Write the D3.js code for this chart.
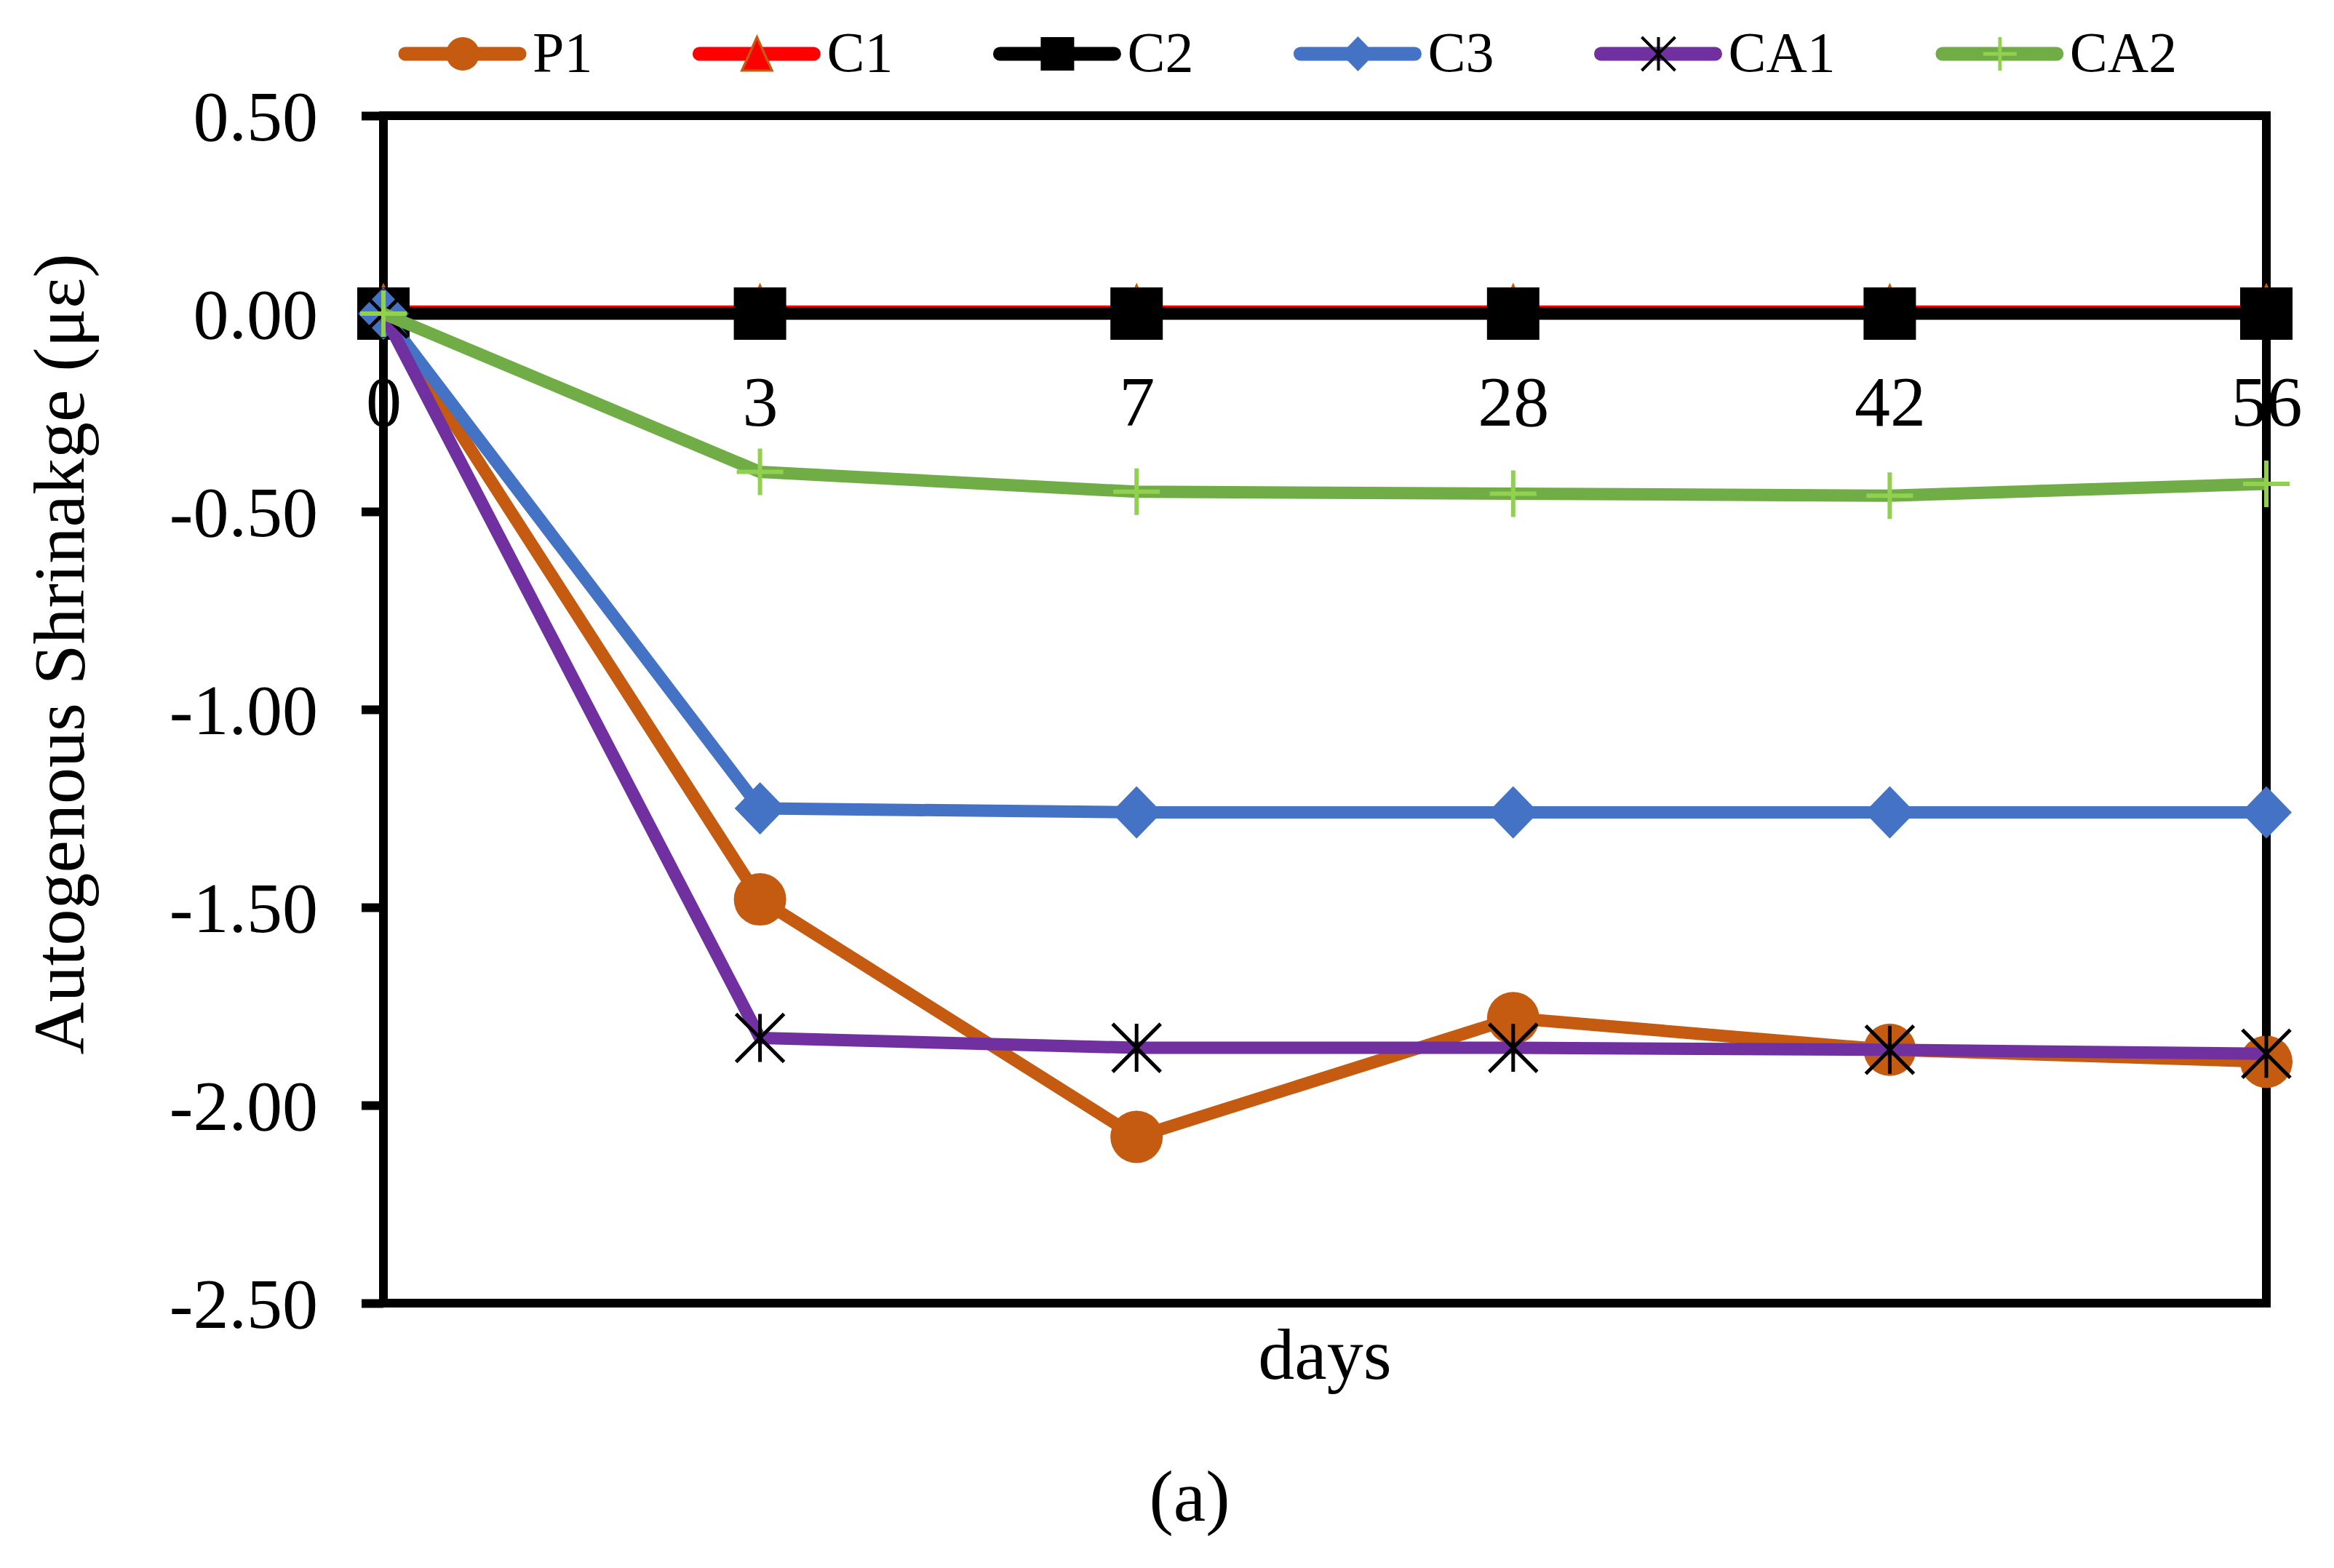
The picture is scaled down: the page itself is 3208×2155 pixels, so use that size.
<!DOCTYPE html>
<html>
<head>
<meta charset="utf-8">
<script src="https://cdn.jsdelivr.net/npm/d3@7"></script>
<style>
  body { margin: 0; background: #fff; }
  text { font-family: "Liberation Serif", "Times New Roman", serif; fill: #000; }
</style>
</head>
<body>
<div id="chart"></div>
<script>
// values
var days = ["0", "3", "7", "28", "42", "56"];
var p1  = [0, -1.48, -2.08, -1.78, -1.86, -1.89];
var c1  = [0.005, 0.005, 0.005, 0.005, 0.005, 0.005];
var c2  = [0, 0, 0, 0, 0, 0];
var c3  = [0, -1.25, -1.26, -1.26, -1.26, -1.26];
var ca1 = [0, -1.83, -1.855, -1.855, -1.86, -1.87];
var ca2 = [0, -0.40, -0.45, -0.455, -0.46, -0.43];
var seriesNames = ["P1", "C1", "C2", "C3", "CA1", "CA2"];
var yTicks = [0.5, 0, -0.5, -1, -1.5, -2, -2.5];

var W = 3208, H = 2155;
var margin = {top: 159, right: 93, bottom: 364, left: 527};

var svg = d3.select("#chart").append("svg")
    .attr("width", W)
    .attr("height", H);

var x = d3.scalePoint().domain(days).range([margin.left, W - margin.right]).padding(0);
var y = d3.scaleLinear().domain([-2.5, 0.5]).range([H - margin.bottom, margin.top]);

// marker shapes (size = full width in px)
function circle(s) { return d3.symbol(d3.symbolCircle, Math.PI * s * s / 4)(); }
function square(s) { return d3.symbol(d3.symbolSquare, s * s)(); }
function diamond(s) {
    var h = s / 2;
    return "M0," + (-h) + "L" + (h * 0.97) + ",0L0," + h + "L" + (-h * 0.97) + ",0Z";
}
function triangle(s) {
    var h = s / 2;
    return "M0," + (-h) + "L" + (h * 0.9) + "," + h + "L" + (-h * 0.9) + "," + h + "Z";
}
function star(s) {
    var h = s / 2;
    return "M0," + (-h) + "V" + h + "M" + (-h) + "," + (-h) + "L" + h + "," + h + "M" + h + "," + (-h) + "L" + (-h) + "," + h;
}
function plus(s) {
    var h = s / 2;
    return "M0," + (-h) + "V" + h + "M" + (-h) + ",0H" + h;
}

var series = [
    {name: seriesNames[0], values: p1,  color: "#C55A11", shape: circle,   fill: "#C55A11", stroke: "none",    sw: 0, size: 72},
    {name: seriesNames[1], values: c1,  color: "#FF0000", shape: triangle, fill: "#FF0000", stroke: "#C55A11", sw: 4, size: 70},
    {name: seriesNames[2], values: c2,  color: "#000000", shape: square,   fill: "#000000", stroke: "none",    sw: 0, size: 72},
    {name: seriesNames[3], values: c3,  color: "#4472C4", shape: diamond,  fill: "#4472C4", stroke: "none",    sw: 0, size: 72},
    {name: seriesNames[4], values: ca1, color: "#7030A0", shape: star,     fill: "none",    stroke: "#000000", sw: 5, size: 66},
    {name: seriesNames[5], values: ca2, color: "#70AD47", shape: plus,     fill: "none",    stroke: "#92D050", sw: 6, size: 64}
];

// x labels sit just under the zero line, drawn before the frame
var xAxis = svg.append("g")
    .attr("transform", "translate(0," + y(0) + ")")
    .call(d3.axisBottom(x).tickSize(0).tickPadding(84));
xAxis.select(".domain").remove();
xAxis.selectAll("text")
    .style("font-size", "98px")
    .style("font-family", "'Liberation Serif', 'Times New Roman', serif");

// y axis with outward ticks
var yAxis = svg.append("g")
    .attr("transform", "translate(" + margin.left + ",0)")
    .call(d3.axisLeft(y).tickValues(yTicks).tickSize(30).tickPadding(60)
        .tickFormat(function(d){ return d.toFixed(2); }));
yAxis.select(".domain").remove();
yAxis.selectAll(".tick line").attr("stroke", "#000").attr("stroke-width", 12);
yAxis.selectAll("text")
    .style("font-size", "98px")
    .style("font-family", "'Liberation Serif', 'Times New Roman', serif")
    .attr("dy", "0.34em");

// plot frame
svg.append("rect")
    .attr("x", x(days[0]))
    .attr("y", y(0.5))
    .attr("width", x(days[days.length - 1]) - x(days[0]))
    .attr("height", y(-2.5) - y(0.5))
    .attr("fill", "none")
    .attr("stroke", "#000")
    .attr("stroke-width", 12);

var line = d3.line()
    .x(function(d, i){ return x(days[i]); })
    .y(function(d){ return y(d); });

series.forEach(function(s){
    var g = svg.append("g");
    g.append("path")
        .datum(s.values)
        .attr("d", line)
        .attr("fill", "none")
        .attr("stroke", s.color)
        .attr("stroke-width", 17)
        .attr("stroke-linejoin", "round");
    g.selectAll(".mk").data(s.values).enter().append("path")
        .attr("class", "mk")
        .attr("transform", function(d, i){ return "translate(" + x(days[i]) + "," + y(d) + ")"; })
        .attr("d", s.shape(s.size))
        .attr("fill", s.fill)
        .attr("stroke", s.stroke)
        .attr("stroke-width", s.sw);
});

// legend across the top
var legend = svg.append("g").attr("transform", "translate(0,74)");
var lx = 548;
series.forEach(function(s){
    var item = legend.append("g");
    item.append("line")
        .attr("x1", lx + 9).attr("x2", lx + 166)
        .attr("stroke", s.color)
        .attr("stroke-width", 19)
        .attr("stroke-linecap", "round");
    item.append("path")
        .attr("transform", "translate(" + (lx + 88) + ",0)")
        .attr("d", s.shape(s.name == "C3" ? 48 : 46))
        .attr("fill", s.fill)
        .attr("stroke", s.stroke)
        .attr("stroke-width", s.sw * 0.8);
    var t = item.append("text")
        .attr("x", lx + 184)
        .attr("y", 24)
        .style("font-size", "78px")
        .text(s.name);
    lx = lx + 184 + t.node().getComputedTextLength() + 138;
});

// axis titles
svg.append("text")
    .attr("transform", "translate(115,899) rotate(-90)")
    .attr("text-anchor", "middle")
    .style("font-size", "100px")
    .text("Autogenous Shrinakge (με)");

svg.append("text")
    .attr("x", (x(days[0]) + x(days[days.length - 1])) / 2)
    .attr("y", 1895)
    .attr("text-anchor", "middle")
    .style("font-size", "100px")
    .text("days");

svg.append("text")
    .attr("x", 1635)
    .attr("y", 2090)
    .attr("text-anchor", "middle")
    .style("font-size", "100px")
    .text("(a)");
</script>
</body>
</html>
